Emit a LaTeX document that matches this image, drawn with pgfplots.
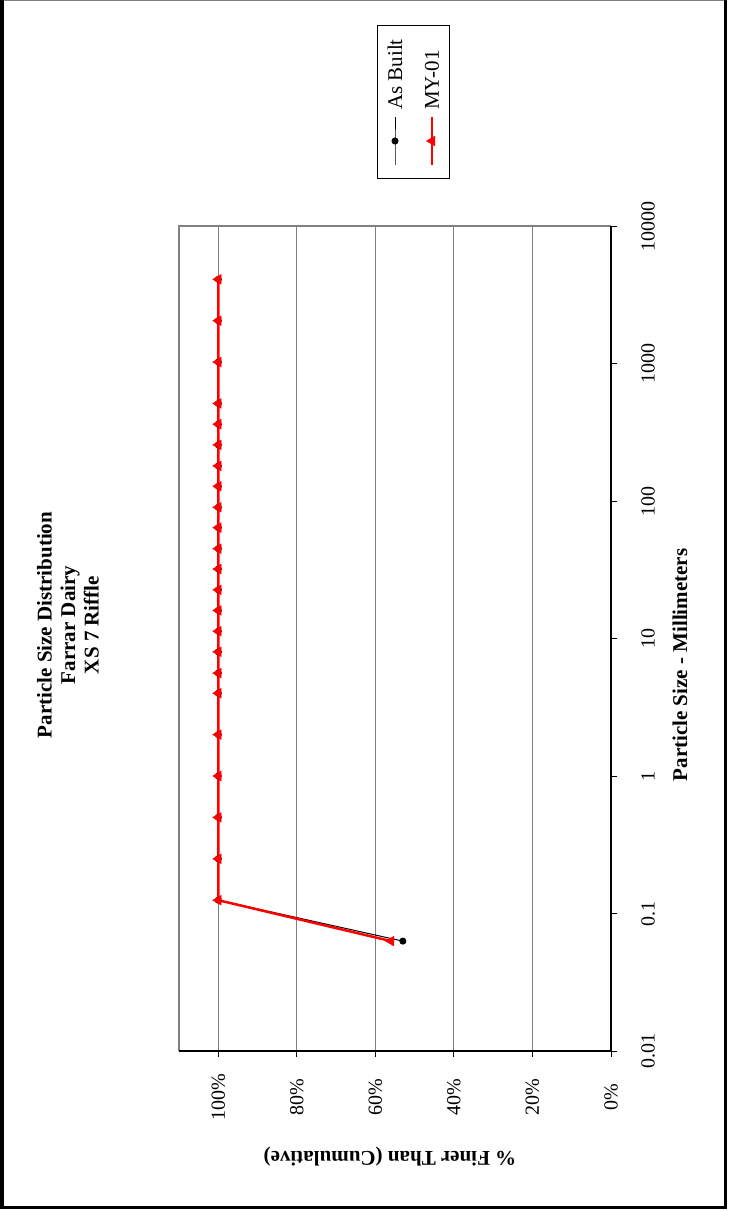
\documentclass[border=0pt]{standalone}
\usepackage{fontspec}
\setmainfont{Liberation Serif}
\usepackage{pgfplots}
\pgfplotsset{compat=1.18}
\begin{document}
\begin{tikzpicture}
\path[use as bounding box] (0,0) rectangle (730bp,-1211bp);
\draw[gray, line width=1.2bp] (0,-0.6bp) -- (726bp,-0.6bp);
\draw[black, line width=3.5bp] (1.75bp,0) -- (1.75bp,-1207.5bp) -- (725.5bp,-1207.5bp) -- (725.5bp,0);
\begin{axis}[
  at={(395bp,-638.5bp)}, anchor=center,
  width=432bp, height=825bp, scale only axis,
  clip=false,
  xmin=0, xmax=110, x dir=reverse,
  ymode=log, ymin=0.01, ymax=10000,
  xtick={0,20,40,60,80,100},
  xticklabels={0\%,20\%,40\%,60\%,80\%,100\%},
  ytick={0.01,0.1,1,10,100,1000,10000},
  yticklabels={0.01,0.1,1,10,100,1000,10000},
  yminorticks=false, minor tick num=0,
  xmajorgrids, major grid style={gray, line width=1bp},
  tick align=outside, major tick length=6bp,
  tick style={black, line width=1bp},
  xtick pos=bottom, ytick pos=right,
  xticklabel pos=bottom, yticklabel pos=right,
  axis line style={draw=none},
  /pgf/number format/assume math mode=true,
  tick label style={font=\fontsize{20bp}{24bp}\selectfont},
  xticklabel style={yshift=-40bp, rotate=90, anchor=center},
  yticklabel style={xshift=31bp, rotate=90, anchor=center},
]
\draw[gray, line width=2bp] (axis cs:110,0.01) -- (axis cs:110,10000) -- (axis cs:0,10000);
\draw[black, line width=2bp] (axis cs:0,10000) -- (axis cs:0,0.01) -- (axis cs:110,0.01);
\addplot[black, line width=1bp, mark=*, mark size=3bp, mark options={solid, fill=black}] table[x=p, y=d] {
d p
4096 100
2048 100
1024 100
512 100
362 100
256 100
180 100
128 100
90 100
64 100
45 100
32 100
22.6 100
16 100
11.3 100
8 100
5.6 100
4 100
2 100
1 100
0.5 100
0.25 100
0.125 100
0.063 53
};
\addplot[red, line width=2.5bp, mark=triangle*, mark size=5.5bp, mark options={solid, fill=red, rotate=90, line width=0.5bp}] table[x=p, y=d] {
d p
4096 100
2048 100
1024 100
512 100
362 100
256 100
180 100
128 100
90 100
64 100
45 100
32 100
22.6 100
16 100
11.3 100
8 100
5.6 100
4 100
2 100
1 100
0.5 100
0.25 100
0.125 100
0.063 56
};
\end{axis}
% legend, drawn as a small axis of its own (rotated like the chart)
\begin{axis}[
  at={(413bp,-101.5bp)}, anchor=center,
  width=72bp, height=153bp, scale only axis,
  xmin=0, xmax=72, ymin=0, ymax=153,
  hide axis, clip=false,
]
\draw[black, line width=0.8bp] (axis cs:0,0) rectangle (axis cs:72,153);
\addplot[black, line width=1bp, mark=*, mark size=3bp, mark options={solid, fill=black}, mark indices={2}] coordinates {(18,13) (18,37) (18,61)};
\addplot[red, line width=2.5bp, mark=triangle*, mark size=5.5bp, mark options={solid, fill=red, rotate=90, line width=0.5bp}, mark indices={2}] coordinates {(55,13) (55,37) (55,61)};
\node[rotate=90, anchor=west, inner sep=0pt, font=\fontsize{21bp}{24bp}\selectfont] at (axis cs:18,68) {As Built};
\node[rotate=90, anchor=west, inner sep=0pt, font=\fontsize{21bp}{24bp}\selectfont] at (axis cs:55,68) {MY-01};
\end{axis}
\node[rotate=90, align=center, font=\bfseries\fontsize{21bp}{23.5bp}\selectfont] at (68bp,-625bp) {Particle Size Distribution\\Farrar Dairy\\XS 7 Riffle};
\node[rotate=90, font=\bfseries\fontsize{21bp}{24bp}\selectfont] at (680bp,-665bp) {Particle Size - Millimeters};
\node[rotate=180, font=\bfseries\fontsize{21bp}{24bp}\selectfont] at (390bp,-1157bp) {\% Finer Than (Cumulative)};
\end{tikzpicture}
\end{document}
